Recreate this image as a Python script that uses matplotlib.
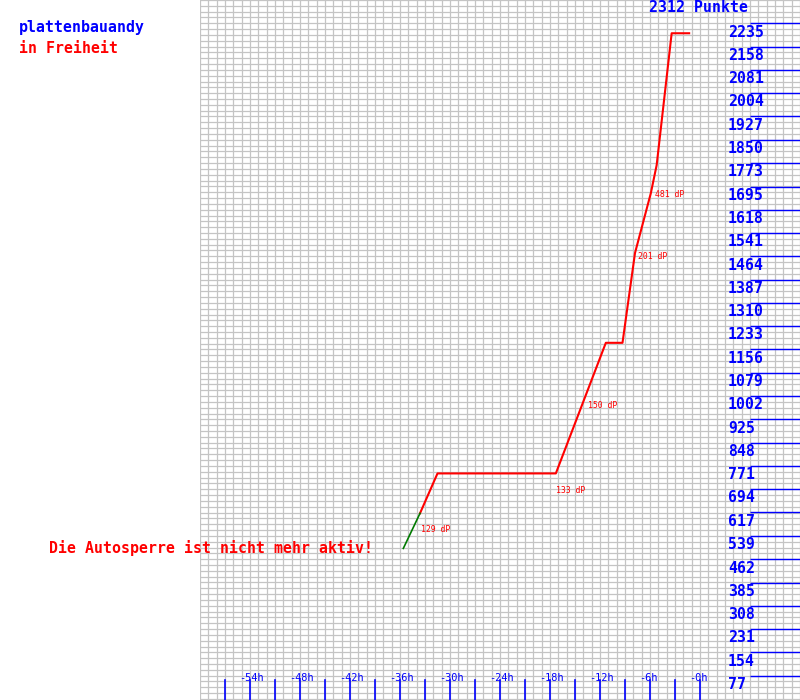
import matplotlib
matplotlib.use("Agg")
import matplotlib.pyplot as plt
import matplotlib.transforms as mtransforms
import numpy as np

# ── data ──────────────────────────────────────────────────────────────────────
player = "plattenbauandy"
status = "in Freiheit"
notice = "Die Autosperre ist nicht mehr aktiv!"
total_points = 2312

# green part (first segment) and red part of the points curve
green_hours = [-35.6, -33.6]
green_points = [498, 614]
red_hours = [-33.6, -31.5, -17.3, -11.3, -9.3, -7.8, -5.9, -5.2, -3.4, -1.3]
red_points = [614, 746, 746, 1178, 1178, 1475, 1673, 1766, 2202, 2202]

# "dP" annotations (hour, points, text)
dp_hours = [-33.5, -17.3, -13.4, -7.5, -5.4]
dp_points = [562, 688, 971, 1465, 1669]
dp_labels = ["129 dP", "133 dP", "150 dP", "201 dP", "481 dP"]

y_ticks = [77, 154, 231, 308, 385, 462, 539, 617, 694, 771, 848, 925, 1002,
           1079, 1156, 1233, 1310, 1387, 1464, 1541, 1618, 1695, 1773, 1850,
           1927, 2004, 2081, 2158, 2235]
x_ticks = list(range(-57, 1, 3))
x_labels = list(range(-54, 1, 6))

BLUE = "#0000ff"
RED = "#ff0000"
GREEN = "#007a00"
GRID = "#c4c4c4"
MONO = "DejaVu Sans Mono"
BIG = 10.7

fig = plt.figure(figsize=(8, 7), dpi=100)
fig.patch.set_facecolor("white")
ax = fig.add_axes([0.25, 0, 0.75, 1])
ax.set_xlim(-60, 12)
ax.set_ylim(-3.5, total_points)
ax.axis("off")

# grid: one column per hour, four rows per label step
for h in range(-60, 13):
    ax.axvline(h, color=GRID, lw=0.9, zorder=1)
for gy in np.arange(total_points, -4, -total_points / 120):
    ax.axhline(gy, color=GRID, lw=0.9, zorder=1)

# right-hand value scale (label baseline ~13 px under its line)
for v in y_ticks:
    ax.plot([6, 12], [v, v], color=BLUE, lw=1.0, zorder=3, solid_capstyle="butt")
    ax.text(3.36, v - 44, str(v), color=BLUE, fontsize=BIG, family=MONO,
            fontweight="bold", ha="left", va="baseline", zorder=4)

# bottom time ticks
trans = mtransforms.blended_transform_factory(ax.transData, ax.transAxes)
for t in x_ticks:
    ax.plot([t, t], [0, 20 / 700], color=BLUE, lw=1.2, transform=trans, zorder=3)
for t in x_labels:
    ax.text(t - 1.28, 1 - 681 / 700, f"-{abs(t)}h", color=BLUE, fontsize=7.4,
            family=MONO, ha="left", va="baseline", transform=trans, zorder=4)

# curve
ax.plot(red_hours, red_points, color=RED, lw=1.5, zorder=5)
ax.plot(green_hours, green_points, color=GREEN, lw=1.2, zorder=6)

for h, p, s in zip(dp_hours, dp_points, dp_labels):
    ax.text(h, p, s, color=RED, fontsize=5.9, family=MONO, ha="left",
            va="center", zorder=6)

# header texts
fig.text(649 / 800, 1 - 11.5 / 700, f"{total_points} Punkte", color=BLUE,
         fontsize=BIG, family=MONO, fontweight="bold", ha="left", va="baseline")
fig.text(19 / 800, 1 - 32 / 700, player, color=BLUE, fontsize=BIG,
         family=MONO, fontweight="bold", ha="left", va="baseline")
fig.text(19 / 800, 1 - 53 / 700, status, color=RED, fontsize=BIG,
         family=MONO, fontweight="bold", ha="left", va="baseline")
fig.text(49 / 800, 1 - 553 / 700, notice, color=RED, fontsize=BIG,
         family=MONO, fontweight="bold", ha="left", va="baseline", zorder=10)

fig.savefig("out.png", dpi=100, facecolor="white")
